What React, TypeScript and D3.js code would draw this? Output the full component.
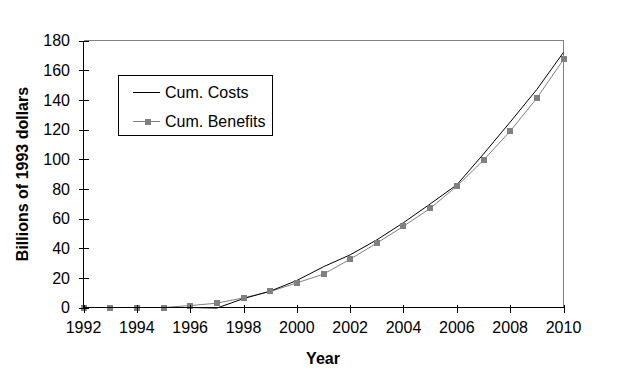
import React from "react";
import * as d3 from "d3";

const years = [1992, 1993, 1994, 1995, 1996, 1997, 1998, 1999, 2000, 2001, 2002, 2003, 2004, 2005, 2006, 2007, 2008, 2009, 2010];
const cumCosts = [0, 0, 0, 0, 0, -0.4, 6, 11, 18.2, 27.5, 35.5, 45.6, 57.2, 69.8, 82.7, 103.5, 125, 147, 172];
const cumBenefits = [0, 0, 0, 0, 1.3, 2.9, 6.5, 10.8, 16.6, 22.5, 32.6, 43.4, 54.8, 66.8, 81.8, 99.3, 118.9, 141.1, 167.2];
const xTicks = [1992, 1994, 1996, 1998, 2000, 2002, 2004, 2006, 2008, 2010];
const yTicks = [0, 20, 40, 60, 80, 100, 120, 140, 160, 180];
const seriesNames = ["Cum. Costs", "Cum. Benefits"];

const W = 626, H = 377;
const left = 83.5, right = 563.5, top = 40.5, bottom = 307.5;
const font = "'Liberation Sans', Arial, sans-serif";
const gray = "#808080";

export default function App() {
  const x = d3.scaleLinear().domain([1992, 2010]).range([left, right]);
  const y = d3.scaleLinear().domain([0, 180]).range([bottom, top]);
  const line = d3.line<number>().x((_, i) => x(years[i])).y((d) => y(d));

  return (
    <svg width={W} height={H} style={{ position: "absolute", left: 0, top: 0, background: "#fff" }} fontFamily={font}>
      <rect x={0} y={0} width={W} height={H} fill="#fff" />
      {/* frame top/right */}
      <line x1={left} x2={right} y1={top} y2={top} stroke={gray} shapeRendering="crispEdges" />
      <line x1={right} x2={right} y1={top} y2={bottom} stroke={gray} shapeRendering="crispEdges" />
      {/* series */}
      <path d={line(cumBenefits) || ""} fill="none" stroke={gray} strokeWidth={1} />
      <path d={line(cumCosts) || ""} fill="none" stroke="#000" strokeWidth={1} />
      {cumBenefits.map((v, i) => (
        <rect key={i} x={Math.round(x(years[i])) - 3} y={Math.round(y(v)) - 3} width={6} height={6} fill={gray} shapeRendering="crispEdges" />
      ))}
      {/* axes */}
      <line x1={left} x2={right} y1={bottom} y2={bottom} stroke="#000" shapeRendering="crispEdges" />
      <line x1={left} x2={left} y1={top} y2={bottom} stroke="#000" shapeRendering="crispEdges" />
      {yTicks.map((t) => (
        <g key={t}>
          <line x1={left - 5} x2={left + 5} y1={Math.round(y(t)) + 0.5} y2={Math.round(y(t)) + 0.5} stroke="#000" shapeRendering="crispEdges" />
          <text x={70} y={y(t)} dy="0.36em" textAnchor="end" fontSize={16} fill="#000">{t}</text>
        </g>
      ))}
      {xTicks.map((t) => (
        <g key={t}>
          <line x1={Math.round(x(t)) + 0.5} x2={Math.round(x(t)) + 0.5} y1={bottom - 3} y2={bottom + 5} stroke="#000" shapeRendering="crispEdges" />
          <text x={x(t)} y={333} textAnchor="middle" fontSize={16} fill="#000">{t}</text>
        </g>
      ))}
      <text x={323} y={364} textAnchor="middle" fontSize={16} fontWeight="bold" fill="#000">Year</text>
      <text transform={`translate(28,174) rotate(-90)`} textAnchor="middle" fontSize={16} fontWeight="bold" fill="#000">Billions of 1993 dollars</text>
      {/* legend */}
      <rect x={118.5} y={75.5} width={154} height={60} fill="#fff" stroke="#000" shapeRendering="crispEdges" />
      <line x1={133} x2={160} y1={92.5} y2={92.5} stroke="#000" shapeRendering="crispEdges" />
      <text x={165} y={92} dy="0.36em" fontSize={16} fill="#000">{seriesNames[0]}</text>
      <line x1={133} x2={160} y1={121.5} y2={121.5} stroke={gray} shapeRendering="crispEdges" />
      <rect x={145} y={119} width={6} height={6} fill={gray} shapeRendering="crispEdges" />
      <text x={165} y={121} dy="0.36em" fontSize={16} fill="#000">{seriesNames[1]}</text>
    </svg>
  );
}
